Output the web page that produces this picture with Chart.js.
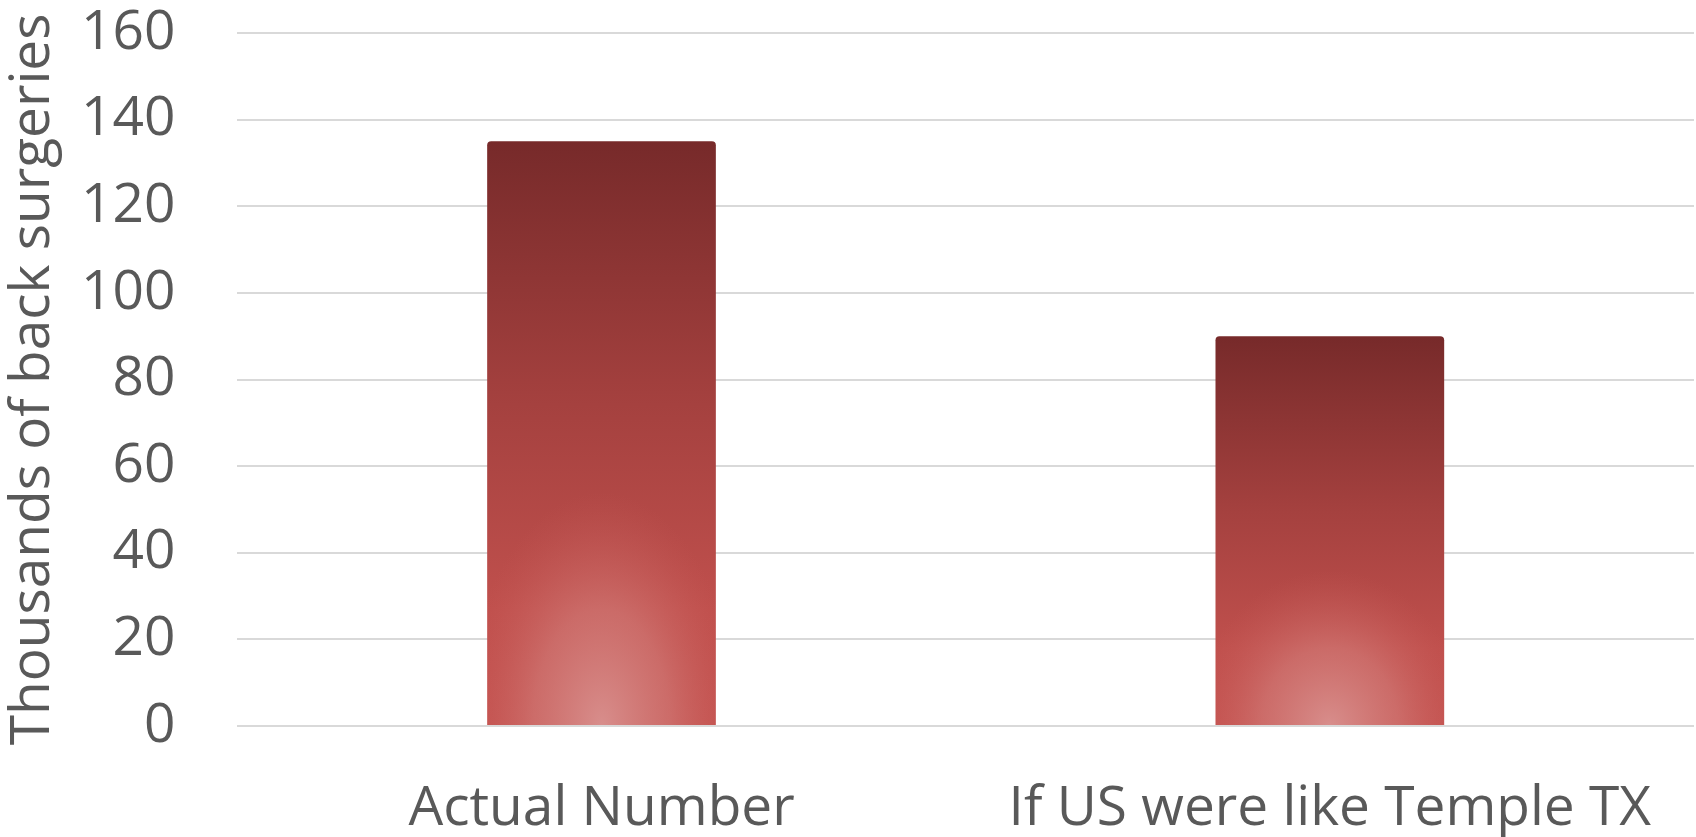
<!DOCTYPE html>
<html>
<head>
<meta charset="utf-8">
<script src="https://cdn.jsdelivr.net/npm/chart.js@4.4.1/dist/chart.umd.min.js"></script>
<style>
  body { margin: 0; background: #fff; }
</style>
</head>
<body>
<canvas id="myChart" width="1696" height="837"></canvas>
<script>
const categories = ["Actual Number", "If US were like Temple TX"];
const surgeries = [135, 90];
const yMin = 0, yMax = 160, yStep = 20;

const textColor = "#595959";
const barShare = 0.314;

// excel-like red gradient: dark at top, pink glow at the bottom middle
function barFill(context) {
  const chart = context.chart;
  if (!chart.chartArea) return "#c0504d";
  const xs = chart.scales.x, ys = chart.scales.y;
  const i = context.dataIndex;
  const cx = xs.getPixelForValue(i);
  const w = (xs.width / categories.length) * barShare;
  const top = ys.getPixelForValue(surgeries[i]);
  const base = ys.getPixelForValue(0);
  const h = base - top;

  const off = document.createElement("canvas");
  off.width = chart.width;
  off.height = chart.height;
  const g = off.getContext("2d");
  g.beginPath();
  g.rect(cx - w / 2 - 2, top - 2, w + 4, h + 4);
  g.clip();

  const lin = g.createLinearGradient(0, top, 0, base);
  lin.addColorStop(0, "#772a2a");
  lin.addColorStop(0.45, "#a5413f");
  lin.addColorStop(0.8, "#c0504d");
  lin.addColorStop(1, "#c4524f");
  g.fillStyle = lin;
  g.fillRect(cx - w / 2 - 2, top - 2, w + 4, h + 4);

  const rx = w * 0.6, ry = Math.min(h * 0.4, 240);
  g.save();
  g.translate(cx, base);
  g.scale(1, ry / rx);
  const rad = g.createRadialGradient(0, 0, 0, 0, 0, rx);
  rad.addColorStop(0, "rgba(216,142,140,1)");
  rad.addColorStop(0.5, "rgba(210,125,122,0.6)");
  rad.addColorStop(1, "rgba(200,90,87,0)");
  g.fillStyle = rad;
  g.fillRect(-rx, -rx, rx * 2, rx * 2);
  g.restore();

  return chart.ctx.createPattern(off, "no-repeat");
}

const data = {
  labels: categories,
  datasets: [{
    data: surgeries,
    backgroundColor: barFill,
    borderWidth: 0,
    borderRadius: { topLeft: 4, topRight: 4, bottomLeft: 0, bottomRight: 0 },
    borderSkipped: "bottom",
    categoryPercentage: 1,
    barPercentage: barShare
  }]
};

// gaps between labels and the plot come from invisible tick marks,
// tick padding would also pad the other ends of the axes
const config = {
  type: "bar",
  data: data,
  options: {
    responsive: false,
    animation: false,
    layout: { padding: { left: 0, right: 2, top: 0, bottom: 0 } },
    plugins: {
      legend: { display: false },
      tooltip: { enabled: false }
    },
    scales: {
      x: {
        grid: { color: "transparent", drawTicks: true, tickLength: 56, tickColor: "transparent" },
        border: { display: false },
        ticks: {
          color: textColor,
          padding: 0,
          maxRotation: 0,
          minRotation: 0,
          autoSkip: false,
          font: { family: "Open Sans", size: 55, lineHeight: 1 }
        }
      },
      y: {
        min: yMin,
        max: yMax,
        grid: { color: "#d9d9d9", lineWidth: 2, drawTicks: true, tickLength: 62, tickColor: "transparent" },
        border: { display: false },
        ticks: {
          stepSize: yStep,
          color: textColor,
          padding: 0,
          font: { family: "Open Sans", size: 55 }
        },
        title: {
          display: true,
          text: "Thousands of back surgeries",
          color: textColor,
          padding: { top: 6, bottom: 20 },
          font: { family: "Open Sans", size: 55, lineHeight: 1 }
        }
      }
    }
  }
};

const myChart = new Chart(document.getElementById("myChart"), config);
</script>
</body>
</html>
